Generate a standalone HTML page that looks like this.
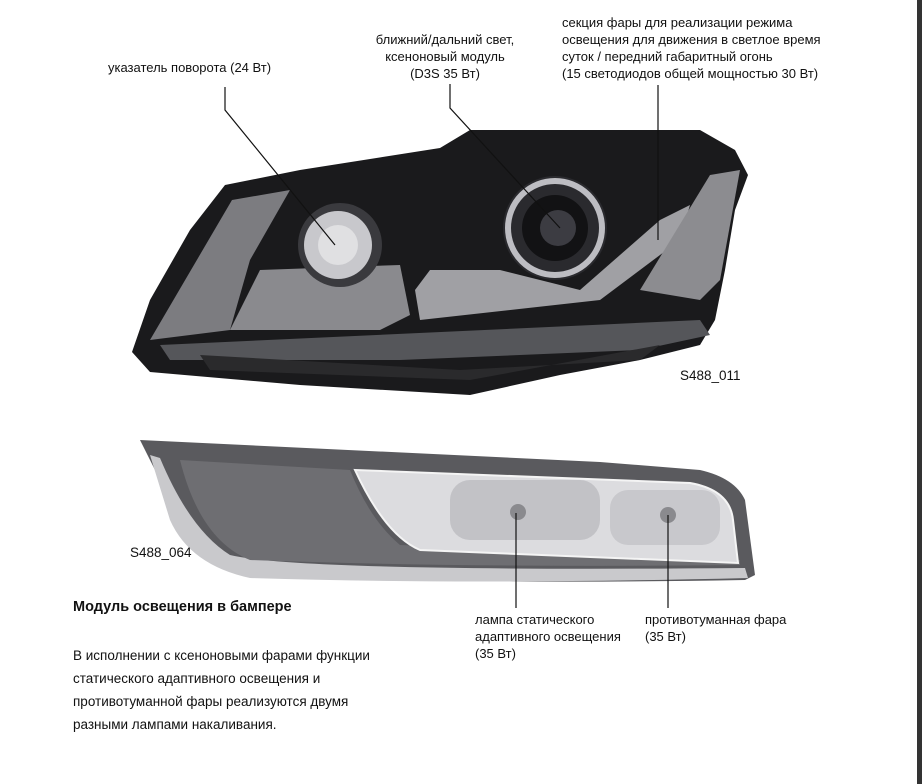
<!DOCTYPE html>
<html><head><meta charset="utf-8"><style>
body{margin:0;width:922px;height:784px;background:#fff;overflow:hidden;position:relative;font-family:"Liberation Sans",sans-serif;color:#111}
.t{position:absolute;font-size:13px;line-height:17px;white-space:nowrap}
</style></head><body>
<svg width="922" height="784" style="position:absolute;left:0;top:0">
<rect x="917" y="0" width="5" height="784" fill="#333"/>
<polygon points="132,352 150,300 190,230 225,185 300,170 440,148 470,130 520,130 700,130 735,150 748,175 735,210 725,270 715,320 700,345 640,360 560,375 470,395 300,385 150,372" fill="#1a1a1c"/>
<polygon points="150,340 232,200 290,190 250,260 230,330" fill="#7c7c80"/>
<polygon points="230,330 260,270 400,265 410,315 380,330" fill="#8a8a8e"/>
<polygon points="160,345 700,320 710,335 640,350 400,360 170,360" fill="#55565a"/>
<polygon points="415,290 430,270 500,270 580,290 660,220 690,205 680,240 600,300 420,320" fill="#a0a0a4"/>
<polygon points="640,290 710,175 740,170 720,280 700,300" fill="#8c8c90"/>
<polygon points="200,355 460,370 640,360 660,345 470,380 210,370" fill="#2a2a2c"/>
<circle cx="340" cy="245" r="42" fill="#3a3a3e"/>
<circle cx="338" cy="245" r="34" fill="#c8c8cc"/>
<circle cx="338" cy="245" r="20" fill="#e0e0e2"/>
<circle cx="555" cy="228" r="52" fill="#2a2a2e"/>
<circle cx="555" cy="228" r="47" fill="none" stroke="#bdbdc2" stroke-width="6"/>
<circle cx="555" cy="228" r="33" fill="#121214"/>
<circle cx="558" cy="228" r="18" fill="#3c3c42"/>
<path d="M140,440 L600,462 L700,470 Q735,478 745,500 L755,575 L745,580 Q470,585 260,575 Q200,565 185,530 Z" fill="#5a5a5e"/>
<path d="M150,455 L160,458 Q190,530 230,555 Q300,572 745,568 L748,578 Q470,585 250,578 Q190,565 170,520 Z" fill="#c9c9cc"/>
<path d="M180,460 L350,470 Q370,520 400,545 L740,560 L740,565 Q470,568 250,560 Q200,540 180,460Z" fill="#6e6e72"/>
<path d="M355,470 L690,483 Q730,490 733,520 L738,563 L420,550 Q385,535 355,470Z" fill="#dcdcdf" stroke="#f4f4f4" stroke-width="2"/>
<rect x="450" y="480" width="150" height="60" rx="20" fill="#c2c2c6"/>
<rect x="610" y="490" width="110" height="55" rx="18" fill="#c8c8cc"/>
<circle cx="518" cy="512" r="8" fill="#8a8a8e"/><circle cx="668" cy="515" r="8" fill="#8a8a8e"/>
<g stroke="#111" stroke-width="1.2" fill="none">
<polyline points="225,87 225,110 335,245"/>
<polyline points="450,84 450,108 560,228"/>
<polyline points="658,85 658,240"/>
<line x1="516" y1="513" x2="516" y2="608"/>
<line x1="668" y1="515" x2="668" y2="608"/>
</g>
</svg>
<div class="t" style="left:108px;top:59px">указатель поворота (24 Вт)</div>
<div class="t" style="left:355px;top:31px;text-align:center;width:180px">ближний/дальний свет,<br>ксеноновый модуль<br>(D3S 35 Вт)</div>
<div class="t" style="left:562px;top:14px">секция фары для реализации режима<br>освещения для движения в светлое время<br>суток / передний габаритный огонь<br>(15 светодиодов общей мощностью 30 Вт)</div>
<div class="t" style="left:680px;top:367px;font-size:13.5px">S488_011</div>
<div class="t" style="left:130px;top:544px;font-size:13.5px">S488_064</div>
<div class="t" style="left:73px;top:599px;font-size:14.5px;font-weight:bold">Модуль освещения в бампере</div>
<div class="t" style="left:73px;top:644px;line-height:23px;font-size:13.5px">В исполнении с ксеноновыми фарами функции<br>статического адаптивного освещения и<br>противотуманной фары реализуются двумя<br>разными лампами накаливания.</div>
<div class="t" style="left:475px;top:611px">лампа статического<br>адаптивного освещения<br>(35 Вт)</div>
<div class="t" style="left:645px;top:611px">противотуманная фара<br>(35 Вт)</div>
</body></html>
